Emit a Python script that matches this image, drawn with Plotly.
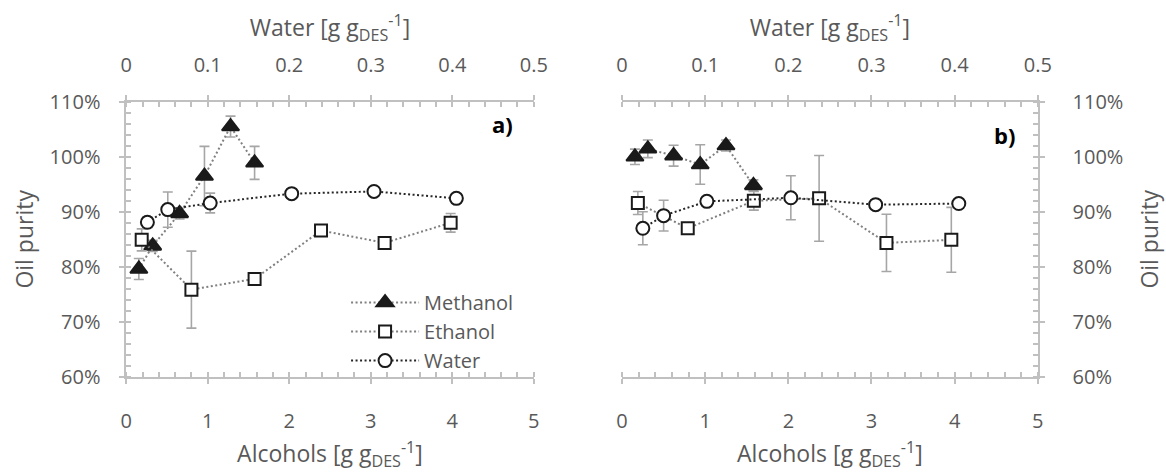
import plotly.graph_objects as go

# ---- data: panel a) ----
a_meoh_x = [0.155, 0.325, 0.655, 0.96, 1.28, 1.575]
a_meoh_y = [79.6, 83.8, 89.7, 96.5, 105.5, 98.9]
a_meoh_err = [1.9, 1.0, 1.0, 5.4, 1.9, 3.0]
a_etoh_x = [0.19, 0.80, 1.575, 2.39, 3.17, 3.98]
a_etoh_y = [84.9, 75.85, 77.8, 86.6, 84.35, 88.0]
a_etoh_err = [2.0, 7.0, 0.5, 0.5, 0.5, 1.7]
a_water_x = [0.026, 0.051, 0.103, 0.203, 0.304, 0.405]
a_water_y = [88.1, 90.4, 91.6, 93.3, 93.7, 92.45]
a_water_err = [1.0, 3.2, 1.8, 0.5, 0.5, 0.5]

# ---- data: panel b) ----
b_meoh_x = [0.155, 0.31, 0.62, 0.94, 1.25, 1.58]
b_meoh_y = [100.0, 101.45, 100.2, 98.6, 102.05, 94.8]
b_meoh_err = [1.4, 1.6, 1.9, 3.6, 1.0, 1.0]
b_etoh_x = [0.19, 0.79, 1.585, 2.37, 3.18, 3.96]
b_etoh_y = [91.6, 87.0, 92.0, 92.45, 84.35, 84.9]
b_etoh_err = [2.1, 0.5, 1.7, 7.8, 5.2, 5.9]
b_water_x = [0.025, 0.050, 0.102, 0.203, 0.305, 0.405]
b_water_y = [87.0, 89.3, 91.9, 92.55, 91.3, 91.5]
b_water_err = [3.0, 2.8, 0.5, 4.0, 0.5, 0.5]

series_names = ["Methanol", "Ethanol", "Water"]
alc_title = "Alcohols [g g<sub>DES</sub><sup>-1</sup>]"
water_title = "Water [g g<sub>DES</sub><sup>-1</sup>]"
y_title = "Oil purity"

FONT = "Open Sans"
TXT = "#595959"
AXC = "#c0c0c0"
ERRC = "#a6a6a6"
DARK = "#1a1a1a"

W, H = 1166, 472
YDOM = [1 - 388.3 / H, 1 - 94 / H]
XDOM_A = [122.3 / W, 537.0 / W]
XDOM_B = [626.8 / W, 1049.8 / W]

TICK_SIZE = 20
TITLE_SIZE = 23

fig = go.Figure()


def add_series(xs, ys, errs, xa, ya, name, symbol, fill, linecolor, msize, legend):
    fig.add_trace(go.Scatter(
        x=xs, y=ys, xaxis=xa, yaxis=ya, name=name,
        mode="lines+markers", showlegend=legend, legendgroup=name,
        line=dict(color=linecolor, width=2, dash="2px,2.5px"),
        marker=dict(symbol=symbol, size=msize, color=fill,
                    line=dict(color=DARK, width=2)),
        error_y=dict(type="data", array=errs, color=ERRC, thickness=1.6, width=5),
    ))


# panel a)
add_series(a_meoh_x, a_meoh_y, a_meoh_err, "x", "y", series_names[0],
           "triangle-up", DARK, "#808080", 15, True)
add_series(a_etoh_x, a_etoh_y, a_etoh_err, "x", "y", series_names[1],
           "square", "white", "#808080", 12, True)
add_series(a_water_x, a_water_y, a_water_err, "x2", "y", series_names[2],
           "circle", "white", "#262626", 13, True)
# panel b)
add_series(b_meoh_x, b_meoh_y, b_meoh_err, "x5", "y5", series_names[0],
           "triangle-up", DARK, "#808080", 15, False)
add_series(b_etoh_x, b_etoh_y, b_etoh_err, "x5", "y5", series_names[1],
           "square", "white", "#808080", 12, False)
add_series(b_water_x, b_water_y, b_water_err, "x6", "y5", series_names[2],
           "circle", "white", "#262626", 13, False)

tickfont = dict(family=FONT, size=TICK_SIZE, color=TXT)
titlefont = dict(family=FONT, size=TITLE_SIZE, color=TXT)


def xax(domain, rng, dtick, mdtick, side, anchor, overlay=None, title=None,
        inner=False):
    d = dict(domain=domain, range=rng, dtick=dtick, side=side, anchor=anchor,
             ticklen=5, tickwidth=1.5, tickcolor=AXC, showgrid=False,
             zeroline=False, fixedrange=True)
    if inner:
        d.update(ticks="inside", showticklabels=False, showline=False)
    else:
        bottom = side == "bottom"
        d.update(ticks="outside", showline=True, linecolor=AXC, linewidth=1.5,
                 tickfont=tickfont, ticklabelstandoff=20 if bottom else 15,
                 minor=dict(ticks="inside", dtick=mdtick, ticklen=5,
                            tickcolor=AXC, tickwidth=1.5, showgrid=False))
        if title:
            d["title"] = dict(text=title, font=titlefont,
                              standoff=22 if bottom else 8)
    if overlay:
        d["overlaying"] = overlay
    return d


def yax(side, anchor, overlay=None, labels=True, title=None, inner=False,
        standoff=10, labelgap=15):
    d = dict(domain=YDOM, range=[60, 110], dtick=10, side=side, anchor=anchor,
             ticklen=5, tickwidth=1.5, tickcolor=AXC, showgrid=False,
             zeroline=False, fixedrange=True, ticksuffix="%")
    if inner:
        d.update(ticks="inside", showticklabels=False, showline=False)
    else:
        d.update(ticks="outside", showline=True, linecolor=AXC, linewidth=1.5,
                 showticklabels=labels, tickfont=tickfont,
                 ticklabelstandoff=labelgap,
                 minor=dict(ticks="inside", dtick=2, ticklen=5,
                            tickcolor=AXC, tickwidth=1.5, showgrid=False))
        if title:
            d["title"] = dict(text=title, font=titlefont, standoff=standoff)
    if overlay:
        d["overlaying"] = overlay
    return d


layout_axes = dict(
    # panel a)
    xaxis=xax(XDOM_A, [0, 5], 1, 0.2, "bottom", "y", title=alc_title),
    xaxis2=xax(XDOM_A, [0, 0.5], 0.1, 0.02, "top", "y", overlay="x", title=water_title),
    xaxis3=xax(XDOM_A, [0, 5], 1, 0.2, "bottom", "y", overlay="x", inner=True),
    xaxis4=xax(XDOM_A, [0, 0.5], 0.1, 0.02, "top", "y", overlay="x", inner=True),
    yaxis=yax("left", "x", title=y_title, standoff=10, labelgap=15),
    yaxis2=yax("right", "x", overlay="y", labels=False),
    yaxis3=yax("left", "x", overlay="y", inner=True),
    yaxis4=yax("right", "x", overlay="y", inner=True),
    # panel b)
    xaxis5=xax(XDOM_B, [0, 5], 1, 0.2, "bottom", "y5", title=alc_title),
    xaxis6=xax(XDOM_B, [0, 0.5], 0.1, 0.02, "top", "y5", overlay="x5", title=water_title),
    xaxis7=xax(XDOM_B, [0, 5], 1, 0.2, "bottom", "y5", overlay="x5", inner=True),
    xaxis8=xax(XDOM_B, [0, 0.5], 0.1, 0.02, "top", "y5", overlay="x5", inner=True),
    yaxis5=yax("right", "x5", title=y_title, standoff=20, labelgap=24),
    yaxis6=yax("left", "x5", overlay="y5", labels=False),
    yaxis7=yax("right", "x5", overlay="y5", inner=True),
    yaxis8=yax("left", "x5", overlay="y5", inner=True),
)

fig.update_layout(
    width=W, height=H,
    margin=dict(l=0, r=0, t=0, b=0),
    paper_bgcolor="white", plot_bgcolor="rgba(0,0,0,0)",
    font=dict(family=FONT, color=TXT),
    legend=dict(x=346 / W, y=1 - 288 / H, xanchor="left", yanchor="top",
                bgcolor="rgba(0,0,0,0)", tracegroupgap=0, itemwidth=68,
                font=dict(family=FONT, size=20, color=TXT)),
    annotations=[
        dict(text="<b>a)</b>", x=505 / W, y=1 - 118 / H, xref="paper", yref="paper",
             xanchor="center", yanchor="middle", showarrow=False,
             font=dict(family=FONT, size=22, color="#000000")),
        dict(text="<b>b)</b>", x=1016 / W, y=1 - 129 / H, xref="paper", yref="paper",
             xanchor="center", yanchor="middle", showarrow=False,
             font=dict(family=FONT, size=22, color="#000000")),
    ],
    **layout_axes,
)

fig.write_html("out.html")
